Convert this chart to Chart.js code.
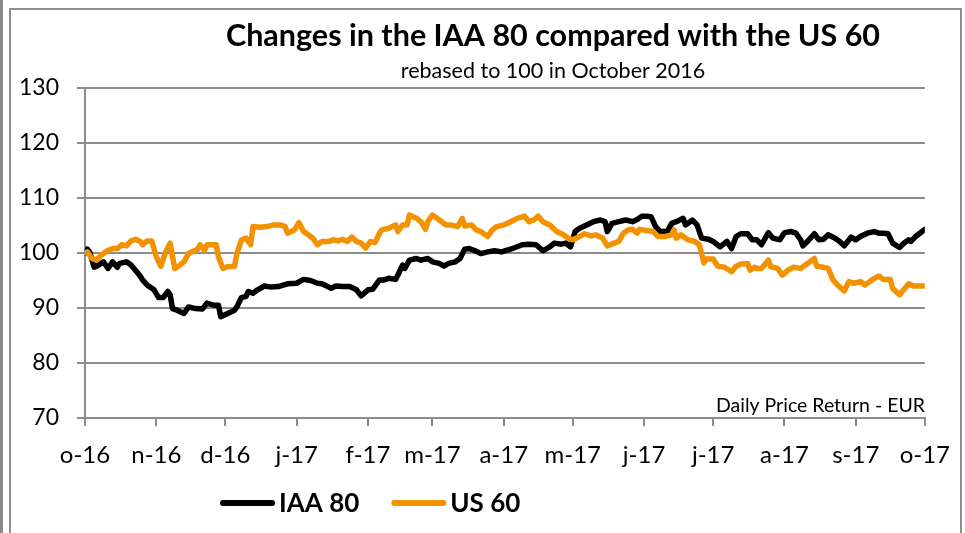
<!DOCTYPE html>
<html>
<head>
<meta charset="utf-8">
<script src="https://cdn.jsdelivr.net/npm/chart.js@4.4.0/dist/chart.umd.min.js"></script>
<style>
  html, body { margin: 0; padding: 0; background: #fff; }
  #wrap { position: relative; width: 965px; height: 533px; }
</style>
</head>
<body>
<div id="wrap"><canvas id="lineChart" width="965" height="533"></canvas></div>
<script>
// days counted from 1 October 2016
const monthDays = [0, 31, 61, 92, 123, 151, 182, 212, 243, 273, 304, 335, 365];
const monthLabels = ['o-16', 'n-16', 'd-16', 'j-17', 'f-17', 'm-17', 'a-17', 'm-17', 'j-17', 'j-17', 'a-17', 's-17', 'o-17'];
const yTicks = [70, 80, 90, 100, 110, 120, 130];

const iaaDays = [0, 1, 2, 4, 6, 8, 10, 12, 14, 15, 18, 20, 22, 24, 25, 27, 30, 32, 34, 36, 37, 38, 40, 43, 45, 48, 51, 53, 56, 58, 59, 62, 65, 66, 68, 70, 71, 73, 75, 78, 81, 84, 88, 92, 95, 98, 101, 103, 105, 107, 109, 112, 115, 118, 120, 123, 125, 128, 130, 132, 135, 136, 138, 139, 141, 144, 146, 149, 151, 154, 156, 158, 161, 163, 165, 167, 169, 172, 175, 178, 181, 185, 187, 190, 193, 196, 199, 202, 204, 207, 209, 211, 213, 215, 218, 221, 224, 226, 227, 229, 232, 235, 238, 240, 242, 244, 246, 248, 250, 253, 255, 257, 260, 261, 264, 266, 268, 271, 273, 276, 279, 281, 283, 285, 288, 290, 292, 294, 297, 299, 302, 304, 307, 309, 311, 312, 314, 317, 319, 321, 323, 326, 328, 330, 333, 335, 337, 340, 343, 345, 347, 349, 351, 354, 356, 358, 359, 361, 365];
const iaaValues = [100, 100.7, 100.2, 97.4, 97.8, 98.4, 97.2, 98.4, 97.4, 98.1, 98.4, 97.8, 96.8, 95.8, 95.1, 94.2, 93.3, 91.9, 91.9, 93.0, 92.4, 89.9, 89.6, 89.0, 90.2, 89.9, 89.8, 90.9, 90.5, 90.5, 88.4, 89.0, 89.6, 90.2, 91.9, 92.1, 93.0, 92.7, 93.3, 94.0, 93.8, 93.9, 94.4, 94.5, 95.2, 95.0, 94.5, 94.4, 94.0, 93.6, 94.0, 93.9, 93.9, 93.3, 92.2, 93.3, 93.4, 95.1, 95.1, 95.4, 95.2, 96.0, 97.8, 97.2, 98.7, 99.0, 98.7, 99.0, 98.4, 98.1, 97.6, 98.1, 98.4, 99.0, 100.7, 100.8, 100.5, 99.9, 100.2, 100.4, 100.2, 100.7, 101.0, 101.5, 101.6, 101.5, 100.4, 101.1, 101.8, 101.6, 101.8, 101.1, 103.9, 104.5, 105.1, 105.7, 106.0, 105.7, 103.9, 105.4, 105.7, 106.0, 105.7, 106.1, 106.7, 106.7, 106.6, 104.8, 103.9, 103.9, 105.4, 105.7, 106.3, 105.1, 106.0, 105.1, 102.7, 102.5, 102.1, 101.1, 102.1, 100.8, 103.0, 103.5, 103.5, 102.4, 102.4, 101.5, 103.7, 102.7, 102.4, 103.7, 103.9, 103.6, 102.4, 101.3, 102.1, 103.5, 102.4, 102.5, 103.3, 102.7, 102.1, 101.3, 102.9, 102.4, 103.0, 103.6, 103.9, 103.6, 103.6, 103.5, 101.8, 101.0, 101.8, 102.4, 102.1, 103.0, 104.3];

const usDays = [0, 1, 3, 5, 7, 10, 12, 14, 16, 18, 20, 22, 24, 25, 27, 29, 31, 33, 35, 37, 39, 40, 43, 45, 48, 49, 50, 52, 53, 57, 58, 60, 62, 65, 66, 68, 70, 72, 73, 76, 79, 82, 85, 87, 88, 91, 93, 95, 97, 99, 101, 103, 106, 108, 110, 112, 114, 116, 118, 120, 122, 124, 126, 128, 129, 132, 135, 136, 138, 140, 141, 144, 146, 148, 149, 151, 153, 155, 157, 159, 162, 164, 165, 168, 170, 172, 175, 177, 179, 182, 185, 188, 191, 193, 195, 197, 199, 202, 205, 208, 210, 212, 215, 217, 220, 222, 225, 227, 230, 232, 234, 236, 238, 240, 241, 244, 247, 249, 252, 255, 256, 257, 259, 262, 265, 267, 269, 270, 273, 275, 278, 281, 283, 285, 288, 289, 291, 292, 294, 297, 298, 301, 303, 306, 308, 311, 314, 317, 318, 321, 323, 325, 327, 330, 332, 334, 337, 339, 342, 345, 347, 350, 351, 354, 356, 358, 360, 362, 365];
const usValues = [100, 100.2, 99.0, 98.7, 99.6, 100.5, 100.8, 100.8, 101.5, 101.3, 102.2, 102.5, 102.1, 101.5, 102.2, 102.2, 99.3, 97.6, 100.1, 101.8, 97.2, 97.4, 98.4, 99.9, 100.5, 100.7, 101.5, 100.5, 101.5, 101.5, 99.3, 97.2, 97.5, 97.6, 99.9, 102.4, 102.7, 101.5, 104.8, 104.7, 104.8, 105.1, 105.1, 104.8, 103.6, 104.2, 105.5, 103.9, 103.3, 102.7, 101.5, 102.1, 102.1, 102.4, 102.2, 102.5, 102.1, 102.9, 102.1, 101.8, 100.9, 102.1, 101.9, 103.6, 104.2, 104.5, 105.1, 103.9, 105.1, 105.1, 106.9, 106.3, 105.7, 104.3, 105.7, 106.9, 106.3, 105.7, 105.1, 105.1, 104.8, 106.3, 104.9, 105.1, 104.2, 103.9, 103.0, 104.2, 104.8, 105.1, 105.7, 106.3, 106.7, 105.7, 106.0, 106.7, 105.7, 105.1, 103.9, 103.3, 102.7, 102.4, 103.0, 103.5, 103.1, 103.3, 102.7, 101.3, 101.8, 102.1, 103.6, 104.2, 104.3, 103.6, 104.3, 104.1, 103.9, 103.0, 103.0, 103.3, 104.2, 102.7, 103.3, 102.4, 102.1, 101.5, 98.2, 98.9, 98.9, 97.6, 97.4, 96.6, 97.6, 98.0, 98.1, 96.9, 97.4, 97.2, 97.2, 98.7, 97.5, 97.2, 96.0, 97.0, 97.4, 97.2, 98.1, 99.0, 97.6, 97.4, 97.2, 95.2, 94.2, 93.1, 94.8, 94.5, 94.8, 94.2, 95.1, 95.8, 95.2, 95.2, 93.6, 92.4, 93.4, 94.4, 94.0, 94.0, 94.0];

const toPoints = (days, values) => days.map((d, i) => ({ x: d, y: values[i] }));

Chart.defaults.font.family = 'Lato';
Chart.defaults.color = '#000';

// frame, title, subtitle, note and legend drawn by hand
const decorations = {
    id: 'decorations',
    beforeDraw(chart) {
        const c = chart.ctx;
        c.save();
        c.fillStyle = '#fff';
        c.fillRect(0, 0, chart.width, chart.height);
        c.fillStyle = '#8a8784';
        c.fillRect(0, 0, 3, chart.height);
        c.strokeStyle = '#8f8f8f';
        c.lineWidth = 2;
        c.beginPath();
        c.moveTo(10, chart.height + 5);
        c.lineTo(10, 9);
        c.lineTo(961, 9);
        c.lineTo(961, chart.height + 5);
        c.stroke();
        c.restore();
    },
    afterDraw(chart) {
        const c = chart.ctx;
        c.save();
        c.fillStyle = '#000';
        c.textAlign = 'center';
        c.textBaseline = 'alphabetic';
        c.font = 'bold 30.5px Lato';
        c.fillText('Changes in the IAA 80 compared with the US 60', 553, 46);
        c.font = '21.5px Lato';
        c.fillText('rebased to 100 in October 2016', 553, 78);
        c.textAlign = 'right';
        c.font = '19.5px Lato';
        c.fillText('Daily Price Return - EUR', 925, 412);

        // legend
        let x = 220;
        const y = 503;
        c.textAlign = 'left';
        c.textBaseline = 'middle';
        c.font = 'bold 26px Lato';
        chart.data.datasets.forEach(ds => {
            c.strokeStyle = ds.borderColor;
            c.lineWidth = 6;
            c.lineCap = 'round';
            c.beginPath();
            c.moveTo(x + 3, y);
            c.lineTo(x + 52, y);
            c.stroke();
            c.fillText(ds.label, x + 59, y + 1);
            x += 59 + c.measureText(ds.label).width + 32;
        });
        c.restore();
    }
};

const ctx = document.getElementById('lineChart').getContext('2d');

const lineChart = new Chart(ctx, {
    type: 'line',
    data: {
        datasets: [
            {
                label: 'IAA 80',
                data: toPoints(iaaDays, iaaValues),
                borderColor: '#000000',
                backgroundColor: '#000000',
                borderWidth: 5.5,
                borderJoinStyle: 'round',
                borderCapStyle: 'round',
                pointRadius: 0,
                tension: 0,
                order: 1
            },
            {
                label: 'US 60',
                data: toPoints(usDays, usValues),
                borderColor: '#F39200',
                backgroundColor: '#F39200',
                borderWidth: 5.5,
                borderJoinStyle: 'round',
                borderCapStyle: 'round',
                pointRadius: 0,
                tension: 0,
                order: 0
            }
        ]
    },
    options: {
        responsive: false,
        animation: false,
        layout: {
            padding: { top: 88, right: 32, left: 0, bottom: 0 }
        },
        plugins: {
            legend: { display: false },
            title: { display: false },
            tooltip: { enabled: false }
        },
        scales: {
            x: {
                type: 'linear',
                min: 0,
                max: 365,
                afterBuildTicks: axis => {
                    axis.ticks = monthDays.map(v => ({ value: v }));
                },
                afterFit: axis => {
                    axis.height = 115;
                },
                ticks: {
                    autoSkip: false,
                    maxRotation: 0,
                    padding: 15,
                    color: '#000',
                    font: { size: 24 },
                    callback: (value, index) => monthLabels[index]
                },
                grid: {
                    drawOnChartArea: false,
                    tickLength: 8,
                    color: '#8c8c8c',
                    lineWidth: 2
                },
                border: { color: '#8c8c8c', width: 2 }
            },
            y: {
                min: 70,
                max: 130,
                afterBuildTicks: axis => {
                    axis.ticks = yTicks.map(v => ({ value: v }));
                },
                afterFit: axis => {
                    axis.width = 85;
                },
                ticks: {
                    padding: 18,
                    color: '#000',
                    font: { size: 23 }
                },
                grid: {
                    color: '#8c8c8c',
                    lineWidth: 2,
                    tickLength: 8
                },
                border: { color: '#8c8c8c', width: 2 }
            }
        }
    },
    plugins: [decorations]
});
</script>
</body>
</html>
